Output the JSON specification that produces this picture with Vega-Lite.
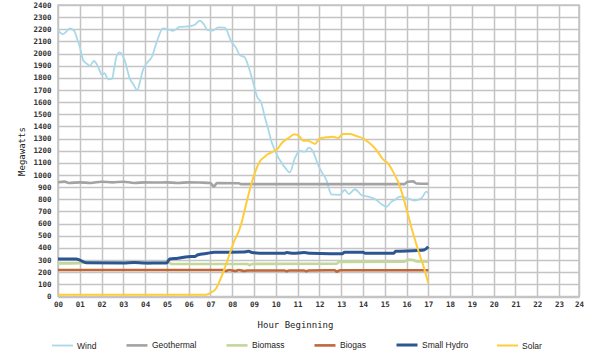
{
  "$schema": "https://vega.github.io/schema/vega-lite/v6.json",
  "autosize": {"type": "none"},
  "padding": {"left": 58, "top": 5, "right": 21, "bottom": 66},
  "width": 521,
  "height": 291.5,
  "background": "white",
  "config": {"view": {"stroke": "#c4c4c4", "strokeWidth": 1.5}},
  "data": {"values": [
    {"s":"Wind","h":0,"v":2194},{"s":"Wind","h":0.12,"v":2170},{"s":"Wind","h":0.23,"v":2161},{"s":"Wind","h":0.35,"v":2175},{"s":"Wind","h":0.54,"v":2208},{"s":"Wind","h":0.65,"v":2200},{"s":"Wind","h":0.77,"v":2180},{"s":"Wind","h":0.88,"v":2120},{"s":"Wind","h":1.0,"v":2057},{"s":"Wind","h":1.15,"v":1947},{"s":"Wind","h":1.3,"v":1920},{"s":"Wind","h":1.46,"v":1900},{"s":"Wind","h":1.65,"v":1939},{"s":"Wind","h":1.84,"v":1892},{"s":"Wind","h":2.02,"v":1824},{"s":"Wind","h":2.14,"v":1838},{"s":"Wind","h":2.3,"v":1788},{"s":"Wind","h":2.48,"v":1791},{"s":"Wind","h":2.58,"v":1880},{"s":"Wind","h":2.68,"v":1974},{"s":"Wind","h":2.83,"v":2010},{"s":"Wind","h":3.06,"v":1947},{"s":"Wind","h":3.29,"v":1796},{"s":"Wind","h":3.45,"v":1750},{"s":"Wind","h":3.64,"v":1700},{"s":"Wind","h":3.78,"v":1780},{"s":"Wind","h":3.9,"v":1865},{"s":"Wind","h":4.13,"v":1933},{"s":"Wind","h":4.33,"v":1980},{"s":"Wind","h":4.45,"v":2050},{"s":"Wind","h":4.59,"v":2126},{"s":"Wind","h":4.82,"v":2208},{"s":"Wind","h":5.05,"v":2200},{"s":"Wind","h":5.28,"v":2188},{"s":"Wind","h":5.59,"v":2219},{"s":"Wind","h":6.05,"v":2225},{"s":"Wind","h":6.3,"v":2240},{"s":"Wind","h":6.51,"v":2271},{"s":"Wind","h":6.7,"v":2240},{"s":"Wind","h":6.86,"v":2194},{"s":"Wind","h":7.12,"v":2190},{"s":"Wind","h":7.35,"v":2216},{"s":"Wind","h":7.65,"v":2213},{"s":"Wind","h":7.96,"v":2098},{"s":"Wind","h":8.19,"v":2043},{"s":"Wind","h":8.34,"v":1988},{"s":"Wind","h":8.57,"v":1969},{"s":"Wind","h":8.72,"v":1906},{"s":"Wind","h":8.95,"v":1768},{"s":"Wind","h":9.14,"v":1645},{"s":"Wind","h":9.34,"v":1591},{"s":"Wind","h":9.49,"v":1480},{"s":"Wind","h":9.64,"v":1385},{"s":"Wind","h":9.8,"v":1275},{"s":"Wind","h":9.95,"v":1206},{"s":"Wind","h":10.18,"v":1124},{"s":"Wind","h":10.45,"v":1055},{"s":"Wind","h":10.64,"v":1022},{"s":"Wind","h":10.87,"v":1138},{"s":"Wind","h":11.1,"v":1198},{"s":"Wind","h":11.33,"v":1192},{"s":"Wind","h":11.52,"v":1225},{"s":"Wind","h":11.71,"v":1192},{"s":"Wind","h":11.94,"v":1083},{"s":"Wind","h":12.14,"v":1014},{"s":"Wind","h":12.32,"v":959},{"s":"Wind","h":12.47,"v":870},{"s":"Wind","h":12.55,"v":840},{"s":"Wind","h":12.93,"v":836},{"s":"Wind","h":13.16,"v":877},{"s":"Wind","h":13.36,"v":844},{"s":"Wind","h":13.62,"v":883},{"s":"Wind","h":13.93,"v":836},{"s":"Wind","h":14.23,"v":822},{"s":"Wind","h":14.62,"v":795},{"s":"Wind","h":14.85,"v":760},{"s":"Wind","h":15.08,"v":739},{"s":"Wind","h":15.31,"v":781},{"s":"Wind","h":15.46,"v":795},{"s":"Wind","h":15.69,"v":822},{"s":"Wind","h":16.07,"v":808},{"s":"Wind","h":16.38,"v":790},{"s":"Wind","h":16.68,"v":808},{"s":"Wind","h":16.91,"v":863},{"s":"Wind","h":17.0,"v":850},
    {"s":"Geothermal","h":0,"v":940},{"s":"Geothermal","h":0.3,"v":946},{"s":"Geothermal","h":0.5,"v":935},{"s":"Geothermal","h":1.0,"v":940},{"s":"Geothermal","h":1.5,"v":935},{"s":"Geothermal","h":2.0,"v":945},{"s":"Geothermal","h":2.5,"v":940},{"s":"Geothermal","h":3.0,"v":945},{"s":"Geothermal","h":3.5,"v":935},{"s":"Geothermal","h":4.0,"v":940},{"s":"Geothermal","h":4.5,"v":938},{"s":"Geothermal","h":5.0,"v":940},{"s":"Geothermal","h":5.5,"v":935},{"s":"Geothermal","h":6.0,"v":940},{"s":"Geothermal","h":6.5,"v":938},{"s":"Geothermal","h":7.0,"v":935},{"s":"Geothermal","h":7.15,"v":905},{"s":"Geothermal","h":7.3,"v":935},{"s":"Geothermal","h":8.3,"v":932},{"s":"Geothermal","h":8.4,"v":925},{"s":"Geothermal","h":12.0,"v":925},{"s":"Geothermal","h":15.9,"v":925},{"s":"Geothermal","h":16.05,"v":945},{"s":"Geothermal","h":16.3,"v":948},{"s":"Geothermal","h":16.45,"v":930},{"s":"Geothermal","h":17.0,"v":928},
    {"s":"Biomass","h":0,"v":273},{"s":"Biomass","h":1.0,"v":275},{"s":"Biomass","h":1.3,"v":280},{"s":"Biomass","h":4.0,"v":280},{"s":"Biomass","h":4.1,"v":270},{"s":"Biomass","h":4.4,"v":278},{"s":"Biomass","h":5.1,"v":278},{"s":"Biomass","h":5.2,"v":268},{"s":"Biomass","h":8.7,"v":268},{"s":"Biomass","h":8.8,"v":258},{"s":"Biomass","h":8.9,"v":268},{"s":"Biomass","h":12.8,"v":270},{"s":"Biomass","h":12.9,"v":285},{"s":"Biomass","h":15.9,"v":287},{"s":"Biomass","h":16.1,"v":305},{"s":"Biomass","h":16.3,"v":300},{"s":"Biomass","h":16.5,"v":288},{"s":"Biomass","h":17.0,"v":287},
    {"s":"Biogas","h":0,"v":218},{"s":"Biogas","h":7.6,"v":218},{"s":"Biogas","h":7.7,"v":210},{"s":"Biogas","h":7.85,"v":218},{"s":"Biogas","h":8.15,"v":210},{"s":"Biogas","h":8.3,"v":218},{"s":"Biogas","h":8.55,"v":210},{"s":"Biogas","h":8.7,"v":214},{"s":"Biogas","h":10.4,"v":214},{"s":"Biogas","h":10.5,"v":208},{"s":"Biogas","h":10.6,"v":214},{"s":"Biogas","h":11.3,"v":214},{"s":"Biogas","h":11.4,"v":208},{"s":"Biogas","h":11.5,"v":214},{"s":"Biogas","h":12.7,"v":216},{"s":"Biogas","h":12.8,"v":205},{"s":"Biogas","h":12.95,"v":216},{"s":"Biogas","h":17.0,"v":216},
    {"s":"Small Hydro","h":0,"v":309},{"s":"Small Hydro","h":0.84,"v":309},{"s":"Small Hydro","h":1.0,"v":300},{"s":"Small Hydro","h":1.3,"v":278},{"s":"Small Hydro","h":3.0,"v":276},{"s":"Small Hydro","h":3.5,"v":279},{"s":"Small Hydro","h":4.0,"v":275},{"s":"Small Hydro","h":4.98,"v":275},{"s":"Small Hydro","h":5.13,"v":309},{"s":"Small Hydro","h":5.5,"v":315},{"s":"Small Hydro","h":5.97,"v":328},{"s":"Small Hydro","h":6.3,"v":330},{"s":"Small Hydro","h":6.4,"v":342},{"s":"Small Hydro","h":6.86,"v":356},{"s":"Small Hydro","h":7.17,"v":364},{"s":"Small Hydro","h":8.5,"v":366},{"s":"Small Hydro","h":8.75,"v":372},{"s":"Small Hydro","h":8.9,"v":362},{"s":"Small Hydro","h":9.5,"v":356},{"s":"Small Hydro","h":10.4,"v":356},{"s":"Small Hydro","h":10.5,"v":362},{"s":"Small Hydro","h":10.8,"v":356},{"s":"Small Hydro","h":11.3,"v":362},{"s":"Small Hydro","h":11.6,"v":356},{"s":"Small Hydro","h":12.5,"v":352},{"s":"Small Hydro","h":13.05,"v":352},{"s":"Small Hydro","h":13.15,"v":364},{"s":"Small Hydro","h":14.0,"v":364},{"s":"Small Hydro","h":14.1,"v":356},{"s":"Small Hydro","h":15.4,"v":356},{"s":"Small Hydro","h":15.5,"v":372},{"s":"Small Hydro","h":16.5,"v":378},{"s":"Small Hydro","h":16.8,"v":383},{"s":"Small Hydro","h":17.0,"v":410},
    {"s":"Solar","h":0,"v":15},{"s":"Solar","h":6.81,"v":15},{"s":"Solar","h":7.0,"v":30},{"s":"Solar","h":7.27,"v":70},{"s":"Solar","h":7.45,"v":140},{"s":"Solar","h":7.65,"v":232},{"s":"Solar","h":7.88,"v":350},{"s":"Solar","h":8.11,"v":465},{"s":"Solar","h":8.19,"v":492},{"s":"Solar","h":8.42,"v":603},{"s":"Solar","h":8.57,"v":712},{"s":"Solar","h":8.8,"v":877},{"s":"Solar","h":9.03,"v":1014},{"s":"Solar","h":9.26,"v":1110},{"s":"Solar","h":9.49,"v":1151},{"s":"Solar","h":9.64,"v":1173},{"s":"Solar","h":9.87,"v":1192},{"s":"Solar","h":10.1,"v":1220},{"s":"Solar","h":10.26,"v":1261},{"s":"Solar","h":10.56,"v":1302},{"s":"Solar","h":10.87,"v":1335},{"s":"Solar","h":11.1,"v":1316},{"s":"Solar","h":11.25,"v":1283},{"s":"Solar","h":11.48,"v":1283},{"s":"Solar","h":11.79,"v":1256},{"s":"Solar","h":12.02,"v":1302},{"s":"Solar","h":12.32,"v":1311},{"s":"Solar","h":12.63,"v":1316},{"s":"Solar","h":12.85,"v":1305},{"s":"Solar","h":13.09,"v":1338},{"s":"Solar","h":13.4,"v":1338},{"s":"Solar","h":13.7,"v":1321},{"s":"Solar","h":14.0,"v":1302},{"s":"Solar","h":14.31,"v":1261},{"s":"Solar","h":14.62,"v":1206},{"s":"Solar","h":14.92,"v":1129},{"s":"Solar","h":15.15,"v":1096},{"s":"Solar","h":15.38,"v":1028},{"s":"Solar","h":15.61,"v":945},{"s":"Solar","h":15.84,"v":822},{"s":"Solar","h":16.07,"v":671},{"s":"Solar","h":16.3,"v":520},{"s":"Solar","h":16.53,"v":383},{"s":"Solar","h":16.76,"v":259},{"s":"Solar","h":17.0,"v":110}
  ]},
  "mark": {"type": "line", "interpolate": "monotone"},
  "encoding": {
    "x": {"field": "h", "type": "quantitative",
      "scale": {"domain": [0, 23.917], "nice": false, "zero": false},
      "axis": {"values": [0,1,2,3,4,5,6,7,8,9,10,11,12,13,14,15,16,17,18,19,20,21,22,23,23.917],
        "labelExpr": "datum.value > 23.5 ? '24' : (datum.value < 10 ? '0' + datum.value : '' + datum.value)",
        "title": "Hour Beginning", "titleFont": "DejaVu Sans Mono", "titleFontSize": 9, "titleFontWeight": "normal", "titleColor": "#222",
        "titleX": 237, "titleY": 28, "titleBaseline": "middle", "titleAlign": "center",
        "labelFont": "DejaVu Sans Mono", "labelFontWeight": "bold", "labelFontSize": 7.5, "labelColor": "#333", "labelPadding": 4, "labelFlush": false,
        "ticks": false, "domain": false, "grid": true, "gridColor": "#c4c4c4", "gridWidth": 1.5}},
    "y": {"field": "v", "type": "quantitative",
      "scale": {"domain": [0, 2400], "nice": false},
      "axis": {"values": [0,100,200,300,400,500,600,700,800,900,1000,1100,1200,1300,1400,1500,1600,1700,1800,1900,2000,2100,2200,2300,2400],
        "format": "d",
        "title": "Megawatts", "titleFont": "DejaVu Sans Mono", "titleFontSize": 9, "titleFontWeight": "normal", "titleColor": "#222",
        "titleX": -37, "titleY": 146, "titleBaseline": "middle", "titleAlign": "center", "titleAngle": -90,
        "labelFont": "DejaVu Sans Mono", "labelFontWeight": "bold", "labelFontSize": 7.5, "labelColor": "#333", "labelPadding": 7, "labelFlush": false,
        "ticks": false, "domain": false, "grid": true, "gridColor": "#c4c4c4", "gridWidth": 1.5}},
    "color": {"field": "s", "type": "nominal",
      "scale": {"domain": ["Wind","Geothermal","Biomass","Biogas","Small Hydro","Solar"],
        "range": ["#a9d9e8","#a3a3a3","#c3d79b","#c0673a","#2c5592","#ffcc3a"]},
      "legend": {"title": null, "orient": "none", "direction": "horizontal", "legendX": -7, "legendY": 328,
        "symbolType": "stroke", "symbolSize": 441, "symbolStrokeWidth": 3, "labelOffset": 3, "columnPadding": 24,
        "labelFont": "Liberation Sans", "labelFontSize": 8.5, "labelColor": "#222"}},
    "strokeWidth": {"field": "s", "type": "nominal",
      "scale": {"type": "ordinal", "domain": ["Wind","Geothermal","Biomass","Biogas","Small Hydro","Solar"], "range": [1.8, 2.6, 2.6, 2.6, 3, 2]},
      "legend": null},
    "order": {"field": "h", "type": "quantitative"}
  }
}
